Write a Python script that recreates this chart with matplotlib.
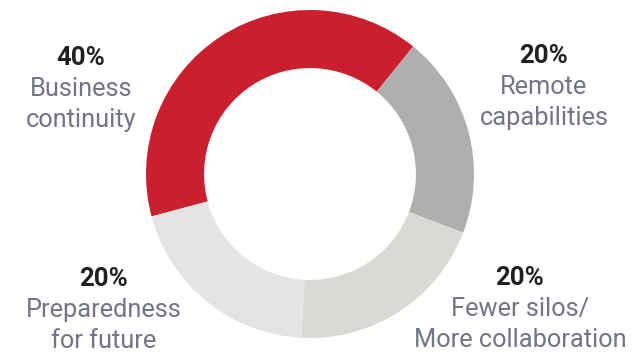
import matplotlib
matplotlib.use("Agg")
import matplotlib.pyplot as plt

# share of each driver, drawn clockwise from the lower-left
drivers = ["Business\ncontinuity", "Remote\ncapabilities",
           "Fewer silos/\nMore collaboration", "Preparedness\nfor future"]
shares = [40, 20, 20, 20]
colors = ["#CC1F2E", "#AFAFAF", "#DADAD5", "#E4E4E4"]

# label anchor (pixel x of centre, pixel baseline of the percentage line)
label_pos = [(81, 65), (544, 63), (520, 285), (104, 286)]

W, H = 632, 354
plt.rcParams['font.family'] = ['Roboto', 'DejaVu Sans']

fig = plt.figure(figsize=(W / 100, H / 100), dpi=100)

cx, cy, R = 310, 174, 164
ax = fig.add_axes([(cx - R) / W, (H - cy - R) / H, 2 * R / W, 2 * R / H])
ax.pie(shares, colors=colors, startangle=195, counterclock=False, radius=1,
       wedgeprops=dict(width=0.354, linewidth=0, antialiased=True))
ax.set_xlim(-1, 1)
ax.set_ylim(-1, 1)
ax.set_aspect("equal")
ax.axis("off")

line_h = 31
for name, val, (x, y) in zip(drivers, shares, label_pos):
    fig.text(x / W, 1 - y / H, f"{val}%", ha="center", va="baseline",
             fontsize=18.5, fontweight="bold", color="#231F20")
    for i, part in enumerate(name.split("\n")):
        fig.text(x / W, 1 - (y + line_h * (i + 1)) / H, part, ha="center",
                 va="baseline", fontsize=18.3, color="#727487")

fig.savefig("out.png", dpi=100)
